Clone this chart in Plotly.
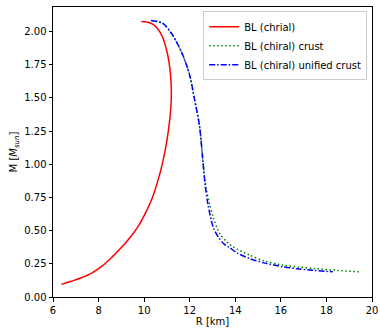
import plotly.graph_objects as go

r_chiral = [6.37, 6.8, 7.25, 7.7, 8.15, 8.6, 9.0, 9.4, 9.73, 10.05, 10.32, 10.61, 10.82, 11.0, 11.12, 11.19, 11.18, 11.1, 10.97, 10.8, 10.55, 10.25, 9.88]
m_chiral = [0.095, 0.118, 0.145, 0.18, 0.232, 0.302, 0.372, 0.452, 0.53, 0.63, 0.73, 0.88, 1.02, 1.18, 1.33, 1.49, 1.62, 1.76, 1.87, 1.96, 2.03, 2.065, 2.075]

r_crust = [10.31, 10.82, 11.26, 11.70, 12.0, 12.21, 12.43, 12.58, 12.72, 12.87, 13.05, 13.31, 13.6, 13.9, 14.62, 15.3, 16.09, 16.8, 17.55, 18.5, 19.42]
m_crust = [2.083, 2.06, 1.97, 1.82, 1.67, 1.49, 1.29, 1.02, 0.82, 0.70, 0.59, 0.48, 0.42, 0.378, 0.316, 0.27, 0.24, 0.225, 0.214, 0.20, 0.19]

r_unified = [10.31, 10.82, 11.26, 11.70, 12.0, 12.21, 12.43, 12.58, 12.68, 12.80, 13.02, 13.24, 13.5, 13.75, 14.1, 14.62, 15.3, 16.09, 16.7, 17.27, 18.28]
m_unified = [2.083, 2.06, 1.97, 1.82, 1.67, 1.49, 1.29, 1.02, 0.84, 0.70, 0.53, 0.455, 0.40, 0.372, 0.33, 0.29, 0.255, 0.228, 0.213, 0.203, 0.19]

fig = go.Figure()
fig.add_trace(go.Scatter(x=r_chiral, y=m_chiral, mode="lines", name="BL (chrial)",
                         line=dict(color="red", width=1.5, shape="spline", smoothing=1.0)))
fig.add_trace(go.Scatter(x=r_crust, y=m_crust, mode="lines", name="BL (chiral) crust",
                         line=dict(color="green", width=1.5, dash="1.5px,2.5px", shape="spline", smoothing=0.8)))
fig.add_trace(go.Scatter(x=r_unified, y=m_unified, mode="lines", name="BL (chiral) unified crust",
                         line=dict(color="blue", width=1.5, dash="6px,2px,1.5px,2px", shape="spline", smoothing=0.8)))

axis_common = dict(showline=True, linecolor="black", linewidth=1, mirror=True,
                   ticks="outside", ticklen=3.5, tickcolor="black", showgrid=False,
                   zeroline=False, automargin=False,
                   tickfont=dict(family="DejaVu Sans", size=10, color="black"))

fig.update_layout(
    width=380, height=329,
    margin=dict(l=53, r=8, t=7, b=32),
    paper_bgcolor="white", plot_bgcolor="white",
    font=dict(family="DejaVu Sans", size=10, color="black"),
    xaxis=dict(range=[6, 20], tickmode="array", tickvals=[6, 8, 10, 12, 14, 16, 18, 20],
               title=dict(text="R [km]", standoff=2, font=dict(size=10)), **axis_common),
    yaxis=dict(range=[0, 2.184], tickmode="array", tickvals=[0, 0.25, 0.5, 0.75, 1.0, 1.25, 1.5, 1.75, 2.0],
               ticktext=["0.00", "0.25", "0.50", "0.75", "1.00", "1.25", "1.50", "1.75", "2.00"],
               title=dict(text="M [<i>M<sub>sun</sub></i>]", standoff=4, font=dict(size=10)), **axis_common),
    legend=dict(x=0.985, y=0.985, xanchor="right", yanchor="top",
                bgcolor="rgba(255,255,255,0.8)", bordercolor="#cccccc", borderwidth=1,
                font=dict(family="DejaVu Sans", size=10), itemwidth=30, tracegroupgap=0),
    showlegend=True,
)

fig.write_html("out.html")
